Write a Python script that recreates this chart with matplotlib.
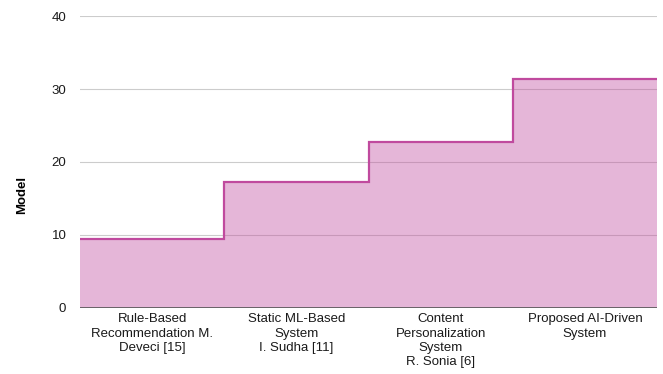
import numpy as np
import matplotlib.pyplot as plt

plt.rcParams['font.family'] = ['Liberation Sans', 'DejaVu Sans']

categories = [
    'Rule-Based\nRecommendation M.\nDeveci [15]',
    'Static ML-Based\nSystem\nI. Sudha [11]',
    'Content\nPersonalization\nSystem\nR. Sonia [6]',
    'Proposed AI-Driven\nSystem',
]
scores = [9.5, 17.2, 22.8, 31.4]

line_color = '#c04a9e'

fig, ax = plt.subplots(figsize=(6.63, 3.74), dpi=100)
fig.subplots_adjust(left=0.121, right=0.991, top=0.957, bottom=0.177)

edges = np.arange(len(scores) + 1)
centers = edges[:-1] + 0.5

# filled steps plus the outline along the top only
ax.stairs(scores, edges, fill=True, color=line_color, alpha=0.4, linewidth=0, zorder=1)
ax.stairs(scores, edges, baseline=None, color=line_color, linewidth=1.6, zorder=3)

ax.set_xlim(0, len(scores))
ax.set_ylim(0, 40)
ax.set_yticks([0, 10, 20, 30, 40])
ax.set_xticks(centers)
ax.set_xticklabels(categories, fontsize=9.5, linespacing=1.25)
ax.tick_params(axis='both', length=0, labelsize=9.5, colors='#1a1a1a')
ax.tick_params(axis='y', pad=10)
ax.tick_params(axis='x', pad=4)

ax.grid(axis='y', color='#cccccc', linewidth=0.8, zorder=0)
ax.set_axisbelow(True)
ax.axhline(0, color='#555555', linewidth=1.2, zorder=4)

for side in ['top', 'right', 'left', 'bottom']:
    ax.spines[side].set_visible(False)

ax.set_ylabel('Model', fontsize=9.5, fontweight='bold')
ax.yaxis.set_label_coords(-0.09, 0.387)

fig.savefig('out.png', dpi=100)
